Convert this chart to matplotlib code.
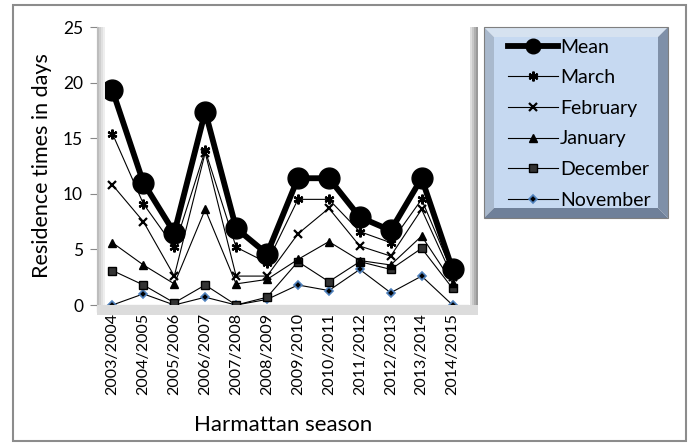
import matplotlib.pyplot as plt
from matplotlib.lines import Line2D
from matplotlib.patches import Polygon, Rectangle

plt.rcParams["font.family"] = ["Lato", "DejaVu Sans"]

seasons = ["2003/2004", "2004/2005", "2005/2006", "2006/2007", "2007/2008", "2008/2009",
           "2009/2010", "2010/2011", "2011/2012", "2012/2013", "2013/2014", "2014/2015"]
mean = [19.3, 11.0, 6.5, 17.4, 6.9, 4.6, 11.4, 11.4, 7.9, 6.7, 11.4, 3.2]
march = [15.4, 9.1, 5.2, 13.9, 5.2, 3.8, 9.5, 9.5, 6.6, 5.6, 9.5, 2.9]
february = [10.8, 7.5, 2.6, 13.7, 2.6, 2.6, 6.4, 8.7, 5.3, 4.4, 8.6, 2.5]
january = [5.6, 3.6, 1.9, 8.6, 1.9, 2.3, 4.1, 5.7, 4.0, 3.6, 6.2, 2.0]
december = [3.1, 1.8, 0.2, 1.8, 0.0, 0.7, 3.9, 2.1, 3.9, 3.2, 5.1, 1.5]
november = [0.0, 1.0, 0.0, 0.7, 0.0, 0.5, 1.8, 1.3, 3.2, 1.1, 2.6, 0.0]

W, H = 691, 445
fig = plt.figure(figsize=(W / 100, H / 100), dpi=100)


def fx(px):
    return px / W


def fy(py):
    return 1 - py / H


# outer chart frame
fig.patches.append(Rectangle((fx(13), fy(441)), fx(673), 436 / H, transform=fig.transFigure,
                             facecolor="none", edgecolor="#8c8c8c", lw=1.5))

# plot area bevel
L, R, T, B = 97, 468, 27, 305
for i, c in enumerate(["#bdbdbd", "#cfcfcf", "#e0e0e0", "#eeeeee"]):
    fig.patches.append(Rectangle((fx(L + i * 2), fy(B + 10)), fx(2), (B + 10 - T) / H,
                                 transform=fig.transFigure, facecolor=c, edgecolor="none", zorder=0))
for i, c in enumerate(["#9a9a9a", "#b0b0b0", "#c8c8c8", "#dedede"]):
    fig.patches.append(Rectangle((fx(R + 8 - i * 2), fy(B + 10)), fx(2), (B + 10 - T) / H,
                                 transform=fig.transFigure, facecolor=c, edgecolor="none", zorder=0))
fig.patches.append(Rectangle((fx(L), fy(B + 10)), fx(R + 10 - L), 10 / H,
                             transform=fig.transFigure, facecolor="#dcdcdc", edgecolor="none", zorder=0))

ax = fig.add_axes([fx(L), fy(B), fx(R - L), (B - T) / H])
ax.patch.set_alpha(0)
x = list(range(len(seasons)))

ax.plot(x, mean, color="black", lw=4.2, marker="o", ms=15, zorder=7, label="Mean")
ax.plot(x, march, color="black", lw=0.8, marker=(6, 2, 0), ms=7, mew=1.6, zorder=6, label="March")
ax.plot(x, february, color="black", lw=0.8, marker="x", ms=6, mew=1.6, zorder=5, label="February")
ax.plot(x, january, color="black", lw=0.8, marker="^", ms=6, zorder=4, label="January")
ax.plot(x, december, color="black", lw=0.8, marker="s", ms=6, mfc="#333333", mec="black", zorder=3,
        label="December")
ax.plot(x, november, color="black", lw=0.8, marker="D", ms=4.5, mfc="black", mec="#4f81bd", mew=1.2,
        zorder=2, label="November")

ax.set_xlim(-0.5, len(seasons) - 0.5)
ax.set_ylim(0, 25)
ax.set_yticks(range(0, 26, 5))
ax.set_xticks([i - 0.5 for i in range(len(seasons) + 1)])
ax.set_xticklabels([])
ax.set_xticks(x, minor=True)
ax.set_xticklabels(seasons, minor=True, rotation=90, fontsize=11.5)
ax.tick_params(axis="x", which="minor", length=0, pad=6)
ax.tick_params(axis="x", which="major", length=5, color="#888888")
ax.tick_params(axis="y", length=5, color="#888888", labelsize=12.5, pad=5)
for s in ["top", "right"]:
    ax.spines[s].set_visible(False)
for s in ["left", "bottom"]:
    ax.spines[s].set_color("#888888")
ax.set_ylabel("Residence times in days", fontsize=15.5, labelpad=8)
fig.text(fx(283), fy(425), "Harmattan season", ha="center", va="center", fontsize=16)

# legend box with bevel
lx0, lx1, ly0, ly1, bw = 484, 668, 27, 218, 10
face = [(lx0 + bw, ly0 + bw), (lx1 - bw, ly0 + bw), (lx1 - bw, ly1 - bw), (lx0 + bw, ly1 - bw)]
edges = [
    ([(lx0, ly0), (lx1, ly0), (lx1 - bw, ly0 + bw), (lx0 + bw, ly0 + bw)], "#d6e2f0"),
    ([(lx0, ly0), (lx0 + bw, ly0 + bw), (lx0 + bw, ly1 - bw), (lx0, ly1)], "#a9b9cd"),
    ([(lx1, ly0), (lx1, ly1), (lx1 - bw, ly1 - bw), (lx1 - bw, ly0 + bw)], "#7f90a8"),
    ([(lx0, ly1), (lx0 + bw, ly1 - bw), (lx1 - bw, ly1 - bw), (lx1, ly1)], "#6f8099"),
]
for pts, c in edges + [(face, "#c6d9f1")]:
    fig.patches.append(Polygon([(fx(a), fy(b)) for a, b in pts], closed=True, transform=fig.transFigure,
                               facecolor=c, edgecolor="none", zorder=1))
fig.patches.append(Rectangle((fx(lx0), fy(ly1)), fx(lx1 - lx0), (ly1 - ly0) / H, transform=fig.transFigure,
                             facecolor="none", edgecolor="#7f7f7f", lw=0.8, zorder=1))

handles, labels = ax.get_legend_handles_labels()
leg_handles = []
for h in handles:
    leg_handles.append(Line2D([], [], color=h.get_color(), lw=h.get_linewidth(), marker=h.get_marker(),
                              ms=h.get_markersize() * (0.7 if h.get_label() == "Mean" else 1),
                              mfc=h.get_markerfacecolor(), mec=h.get_markeredgecolor(),
                              mew=h.get_markeredgewidth()))
fig.legend(leg_handles, labels, loc="upper left", bbox_to_anchor=(fx(494), fy(25)), frameon=False,
           fontsize=14, handlelength=2.6, handletextpad=0.1, labelspacing=0.7, borderpad=0.2)

fig.savefig("out.png", dpi=100)
